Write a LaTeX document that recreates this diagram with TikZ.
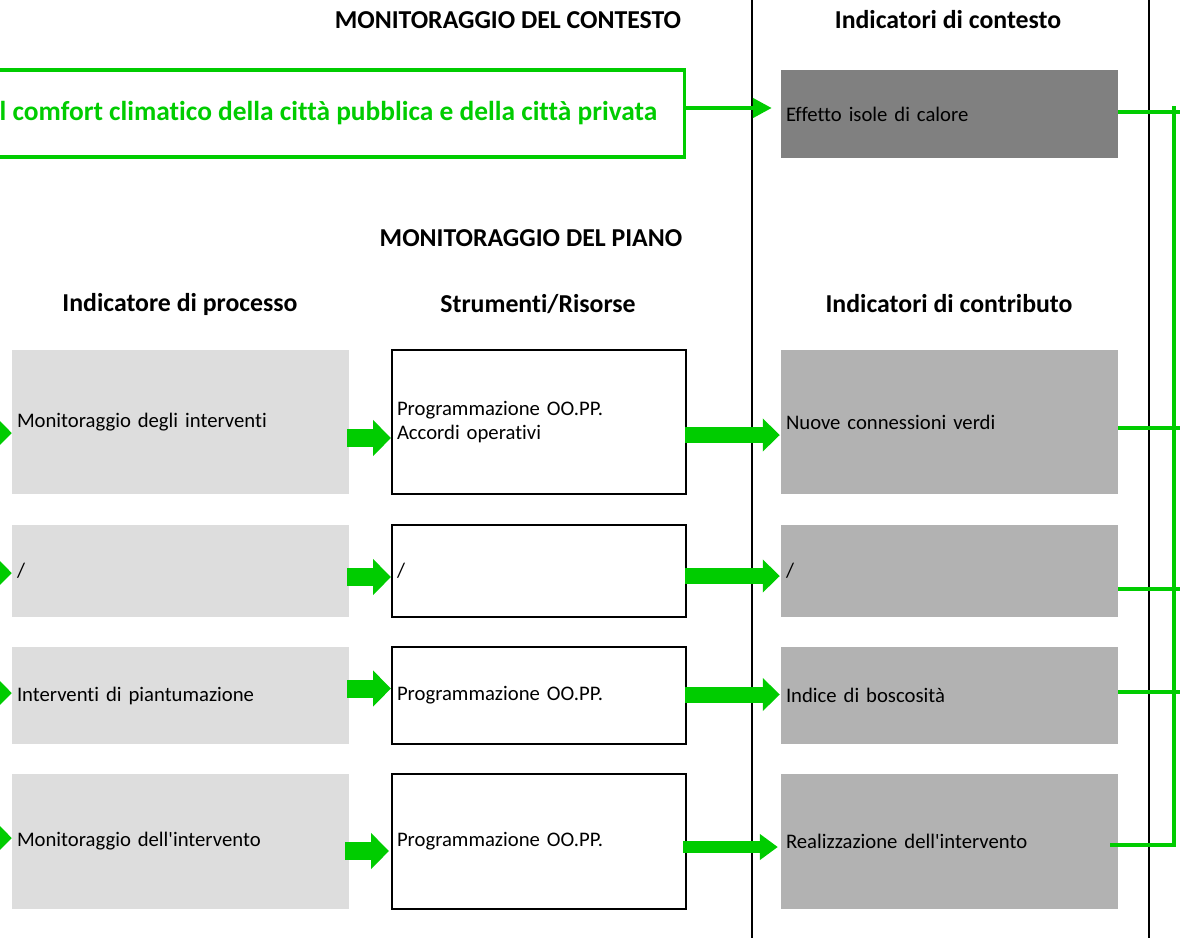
\documentclass[tikz,border=0pt]{standalone}
\usepackage{fontspec}
\setmainfont{Carlito}[Ligatures=NoCommon]
\usepackage{xcolor}
\usepackage{tikz}
\usetikzlibrary{arrows.meta,calc}

\definecolor{vivid}{RGB}{0,204,0}
\definecolor{procgray}{RGB}{221,221,221}
\definecolor{contrgray}{RGB}{178,178,178}
\definecolor{ctxgray}{RGB}{128,128,128}

\begin{document}
\begin{tikzpicture}[
    x=1pt, y=-1pt,
    font=\fontsize{20.7}{24}\selectfont,
    head/.style={
        font=\fontsize{25.8}{30}\selectfont\bfseries
    },
    procbox/.style={
        fill=procgray,
        minimum width=337pt,
        text width=327pt,
        inner xsep=5pt, inner ysep=0pt,
        align=left
    },
    resbox/.style={
        draw=black,
        line width=2pt,
        fill=white,
        minimum width=294pt,
        text width=284pt,
        inner xsep=5pt, inner ysep=0pt,
        align=left
    },
    contrbox/.style={
        fill=contrgray,
        minimum width=337pt,
        text width=327pt,
        inner xsep=5pt, inner ysep=0pt,
        align=left
    },
    goalbox/.style={
        draw=vivid,
        line width=3.5pt,
        minimum height=87pt,
        inner xsep=27pt,
        text=vivid,
        font=\fontsize{27.4}{32}\selectfont\bfseries
    },
    bigarr/.style={
        draw=vivid,
        line width=18pt,
        -{Triangle[length=18pt,width=35pt]}
    },
    midarr/.style={
        draw=vivid,
        line width=16pt,
        -{Triangle[length=17pt,width=32pt]}
    },
    smallarr/.style={
        draw=vivid,
        line width=12pt,
        -{Triangle[length=18pt,width=25pt]}
    },
    thinarr/.style={
        draw=vivid,
        line width=4.5pt,
        -{Triangle[length=19pt,width=19pt]}
    },
    link/.style={draw=vivid, line width=4.5pt},
    divider/.style={draw=black, line width=2pt}
]
\useasboundingbox (0,0) rectangle (1180,938);
\clip (0,0) rectangle (1180,938);

% headings
\node[head] (hctx) at (508,20) {MONITORAGGIO DEL CONTESTO};
\node[head] (hctxind) at (948,20) {Indicatori di contesto};
\node[head] (hplan) at (531,238) {MONITORAGGIO DEL PIANO};
\node[head] (hproc) at (180,304) {Indicatore di processo};
\node[head] (hres) at (538,304) {Strumenti/Risorse};
\node[head] (hcontr) at (949,304) {Indicatori di contributo};

\draw[divider] (752,0) -- (752,938);
\draw[divider] (1149,0) -- (1149,938);

% context row
\node[goalbox, anchor=east] (goal) at (686,113.5)
{Il comfort climatico della città pubblica e della città privata};
\node[contrbox, fill=ctxgray, minimum height=88pt] (ctx) at (949.5,114)
{Effetto isole di calore};
\draw[thinarr] ($(goal.east)+(0,-5.5)$) -- ($(ctx.west)+(-9,-6)$);

% process indicators
\node[procbox, minimum height=144pt] (proc1) at (180.5,422) {Monitoraggio degli interventi};
\node[procbox, minimum height=92pt] (proc2) at (180.5,571) {/};
\node[procbox, minimum height=97pt] (proc3) at (180.5,695.5) {Interventi di piantumazione};
\node[procbox, minimum height=135pt] (proc4) at (180.5,841.5) {Monitoraggio dell\textquotesingle intervento};

% tools / resources
\node[resbox, minimum height=144pt] (res1) at (539,422) {Programmazione OO.PP.\\Accordi operativi};
\node[resbox, minimum height=92pt] (res2) at (539,571) {/};
\node[resbox, minimum height=97pt] (res3) at (539,695.5) {Programmazione OO.PP.};
\node[resbox, minimum height=135pt] (res4) at (539,841.5) {Programmazione OO.PP.};

% contribution indicators
\node[contrbox, minimum height=144pt] (contr1) at (949.5,422) {Nuove connessioni verdi};
\node[contrbox, minimum height=92pt] (contr2) at (949.5,571) {/};
\node[contrbox, minimum height=97pt] (contr3) at (949.5,695.5) {Indice di boscosità};
\node[contrbox, minimum height=135pt] (contr4) at (949.5,841.5) {Realizzazione dell\textquotesingle intervento};

% incoming arrows from the left
\coordinate (in1) at (-40,433);
\coordinate (in2) at (-40,573);
\coordinate (in3) at (-40,693);
\coordinate (in4) at (-40,838);
\draw[bigarr] (in1) -- ($(proc1.west)+(0,11)$);
\draw[bigarr] (in2) -- ($(proc2.west)+(0,2)$);
\draw[bigarr] (in3) -- ($(proc3.west)+(0,-2.5)$);
\draw[bigarr] (in4) -- ($(proc4.west)+(0,-3.5)$);

% process -> resources
\draw[bigarr] ($(proc1.east)+(-2,16)$) -- ($(res1.west)+(0,16)$);
\draw[bigarr] ($(proc2.east)+(-2,6)$) -- ($(res2.west)+(0,6)$);
\draw[bigarr] ($(proc3.east)+(-2,-7)$) -- ($(res3.west)+(0,-7)$);
\draw[bigarr] ($(proc4.east)+(-4,9.5)$) -- ($(res4.west)+(-2,9.5)$);

% resources -> contribution
\draw[midarr] ($(res1.east)+(-2,13)$) -- ($(contr1.west)+(-1,13)$);
\draw[midarr] ($(res2.east)+(-2,5)$) -- ($(contr2.west)+(-1,5)$);
\draw[midarr] ($(res3.east)+(-2,-1)$) -- ($(contr3.west)+(-1,-1)$);
\draw[smallarr] ($(res4.east)+(-4,5.5)$) -- ($(contr4.west)+(-3,5.5)$);

% collector on the right
\coordinate (bustop) at (1174,106);
\draw[link] ($(ctx.east)+(0,-2)$) -- ++(80,0);
\draw[link] ($(contr1.east)+(0,6)$) -- ++(80,0);
\draw[link] ($(contr2.east)+(0,18)$) -- ++(80,0);
\draw[link] ($(contr3.east)+(0,-3.5)$) -- ++(80,0);
\draw[link] ($(contr4.east)+(-8,3.5)$) -| (bustop);

\end{tikzpicture}
\end{document}
